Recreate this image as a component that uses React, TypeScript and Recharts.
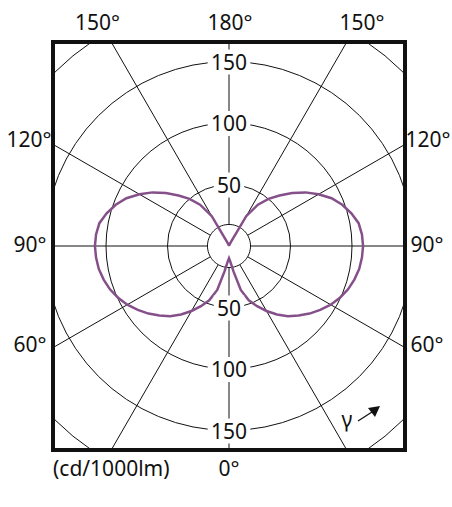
import React from "react";
import { PolarAngleAxis, PolarGrid, PolarRadiusAxis, Radar, RadarChart } from "recharts";

// gamma angle in degrees, 0 = straight down, 180 = straight up (5° steps)
const gammaHalf = [
  0, 5, 10, 15, 20, 25, 30, 35, 40, 45, 50, 55, 60, 65, 70, 75, 80, 85, 90,
  95, 100, 105, 110, 115, 120, 125, 130, 135, 140, 145, 150, 155, 160, 165, 170, 175, 180,
];
// intensity in cd/1000lm (one half, the curve is symmetric)
const intensityHalf = [
  10, 13, 21, 37, 47, 54, 61, 68, 74.5, 80, 85.5, 90.5, 95.5, 99.5, 103, 105.5, 107.5, 108.5, 109,
  108.5, 107, 103, 98, 92, 84, 76, 67, 58, 50, 41, 28, 3, 1, 1, 1, 1, 1,
];
const radiusDomain = [0, 200];
const angleDomain = [0, 360];
const radiusLabels = [50, 100, 150];
const gridAngles = [0, 30, 60, 90, 120, 150, 180, 210, 240, 270, 300, 330];
const hubValue = 17.5;

const topLabels = ["150°", "180°", "150°"];
const sideLabels = ["120°", "90°", "60°"];

const intensityFull = [...intensityHalf, ...intensityHalf.slice(1, -1).reverse()];
const gammaFull = [...gammaHalf, ...gammaHalf.slice(1, -1).map((g) => 360 - g).reverse()];

const data = gammaFull.map((g, i) => ({ gamma: g, intensity: intensityFull[i], hub: hubValue }));

const FONT = "'Noto Sans', 'Open Sans', sans-serif";

function RadiusTick(props: any) {
  const { x, y, payload } = props;
  const v = payload?.value;
  if (!radiusLabels.includes(v)) return null;
  const w = String(v).length * 12.2 + 6;
  return (
    <g>
      <rect x={x - w / 2} y={y - 12} width={w} height={25} fill="#fff" />
      <text x={x} y={y + 8} textAnchor="middle" fontFamily={FONT} fontSize={21} fill="#111">
        {v}
      </text>
    </g>
  );
}

export default function App() {
  return (
    <div style={{ position: "absolute", left: 0, top: 0, width: 452, height: 507, background: "#fff" }}>
      <div
        style={{
          position: "absolute",
          left: 51,
          top: 40,
          width: 356,
          height: 412,
          border: "4px solid #111",
          boxSizing: "border-box",
          overflow: "hidden",
        }}
      >
        <RadarChart
          width={348}
          height={404}
          data={data}
          margin={{ top: 0, right: 0, bottom: 0, left: 0 }}
          cx="50%"
          cy="50%"
          innerRadius={0}
          outerRadius={246}
          startAngle={-90}
          endAngle={270}
        >
          <PolarGrid gridType="circle" polarAngles={gridAngles} stroke="#111" strokeWidth={1} />
          <PolarAngleAxis
            dataKey="gamma"
            type="number"
            domain={angleDomain}
            tick={false}
            axisLine={false}
            tickLine={false}
          />
          <Radar
            dataKey="hub"
            radiusAxisId="lower"
            stroke="#111"
            strokeWidth={1}
            fill="#fff"
            fillOpacity={1}
            dot={false}
            activeDot={false}
            isAnimationActive={false}
          />
          <Radar
            dataKey="intensity"
            stroke="#85508a"
            strokeWidth={2.5}
            fill="none"
            fillOpacity={0}
            dot={false}
            activeDot={false}
            isAnimationActive={false}
          />
          <PolarRadiusAxis
            angle={90}
            domain={radiusDomain}
            tickCount={5}
            type="number"
            axisLine={false}
            tick={RadiusTick}
          />
          <PolarRadiusAxis
            radiusAxisId="lower"
            angle={-90}
            domain={radiusDomain}
            tickCount={5}
            type="number"
            axisLine={false}
            tick={RadiusTick}
          />
        </RadarChart>
      </div>
      <svg
        width={452}
        height={507}
        style={{ position: "absolute", left: 0, top: 0, pointerEvents: "none" }}
        fontFamily={FONT}
        fontSize={21}
        fill="#111"
      >
        <text x={97.5} y={30} textAnchor="middle">{topLabels[0]}</text>
        <text x={230} y={30} textAnchor="middle">{topLabels[1]}</text>
        <text x={362} y={30} textAnchor="middle">{topLabels[2]}</text>
        <text x={29} y={146.5} textAnchor="middle">{sideLabels[0]}</text>
        <text x={30} y={251.5} textAnchor="middle">{sideLabels[1]}</text>
        <text x={30} y={351.5} textAnchor="middle">{sideLabels[2]}</text>
        <text x={428} y={146.5} textAnchor="middle">{sideLabels[0]}</text>
        <text x={427} y={251.5} textAnchor="middle">{sideLabels[1]}</text>
        <text x={427} y={351.5} textAnchor="middle">{sideLabels[2]}</text>
        <text x={53} y={475.5}>(cd/1000lm)</text>
        <text x={229} y={475.5} textAnchor="middle">0°</text>
        <text x={347} y={427} textAnchor="middle">γ</text>
        <line x1={358} y1={421} x2={372} y2={412} stroke="#111" strokeWidth={1.3} />
        <polygon points="368,408 380,406 375,417" fill="#111" />
      </svg>
    </div>
  );
}
